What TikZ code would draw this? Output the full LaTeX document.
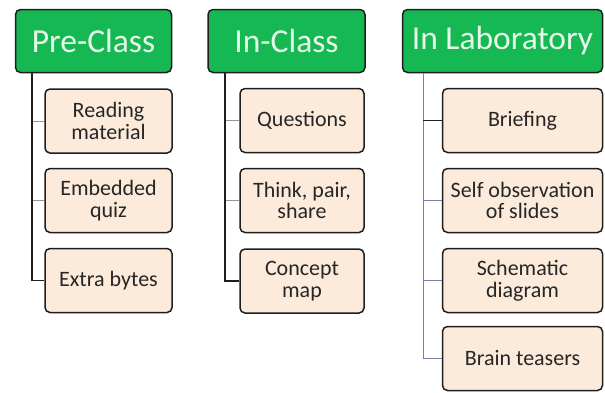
\documentclass[tikz,border=0pt]{standalone}
\usepackage{fontspec}
\setmainfont{Carlito}
\usepackage{tikz}
\usetikzlibrary{positioning,calc}
\definecolor{hdrgreen}{RGB}{22,184,84}
\definecolor{hdrtext}{RGB}{230,248,232}
\definecolor{itemfill}{RGB}{252,235,218}
\definecolor{itemtext}{RGB}{38,38,38}
\definecolor{darkline}{RGB}{30,30,30}
\definecolor{greyline}{RGB}{150,150,150}
\definecolor{blueline}{RGB}{115,130,160}
\tikzset{
header/.style = {draw=darkline, line width=1.5pt, fill=hdrgreen, rectangle, rounded corners=5pt, align=center, text=hdrtext, font=\fontsize{33.5}{35}\selectfont, minimum height=63pt, inner sep=0pt},
item/.style = {draw=darkline, line width=1.5pt, fill=itemfill, rectangle, rounded corners=5pt, align=center, text=itemtext, font=\fontsize{22}{21.5}\selectfont, minimum height=64pt, inner sep=0pt},
trunk/.style = {draw=darkline, line width=1.5pt},
twig/.style = {draw=greyline, line width=0.8pt},
}
\begin{document}
\begin{tikzpicture}[x=1pt,y=-1pt]
        \useasboundingbox (0,0) rectangle (605,392);
        %headers
        \node [header, minimum width=156pt] (pre) at (93.5,41) {Pre-Class};
        \node [header, minimum width=157pt] (inc) at (286.5,41) {In-Class};
        \node [header, minimum width=200pt] (lab) at (502.5,41) {In Laboratory};
        %pre-class items
        \node [item, minimum width=127pt] (read) at (108.5,121) {Reading\\material};
        \node [item, minimum width=127pt] (quiz) at (108.5,200.5) {Embedded\\quiz};
        \node [item, minimum width=127pt] (bytes) at (108.5,280.5) {Extra bytes};
        %in-class items
        \node [item, minimum width=124pt] (quest) at (302,120.5) {Questions};
        \node [item, minimum width=124pt] (think) at (302,200.5) {Think, pair,\\share};
        \node [item, minimum width=124pt] (cmap) at (302,281) {Concept\\map};
        %laboratory items
        \node [item, minimum width=160pt] (brief) at (522.5,120.5) {Briefing};
        \node [item, minimum width=160pt] (slides) at (522.5,200.5) {Self observation\\of slides};
        \node [item, minimum width=160pt] (schem) at (522.5,280.5) {Schematic\\diagram};
        \node [item, minimum width=160pt] (brain) at (522.5,358.5) {Brain teasers};

        %trunk tops
        \coordinate (t1) at (32,73);
        \coordinate (t2) at (225,73);
        \coordinate (t3) at (423,73);

        \draw [twig] (t1 |- read.west) -- (read.west);
        \draw [twig] (t1 |- quiz.west) -- (quiz.west);
        \draw [trunk] (t1) |- (bytes.west);

        \draw [twig] (t2 |- quest.west) -- (quest.west);
        \draw [twig] (t2 |- think.west) -- (think.west);
        \draw [trunk] (t2) |- (cmap.west);

        \draw [draw=blueline, line width=0.8pt] (t3) |- (brain.west);
        \draw [draw=blueline, line width=0.8pt] (t3 |- slides.west) -- (slides.west);
        \draw [draw=blueline, line width=0.8pt] (t3 |- schem.west) -- (schem.west);
        \draw [trunk] (t3 |- brief.west) -- (brief.west);
        \end{tikzpicture}
\end{document}
